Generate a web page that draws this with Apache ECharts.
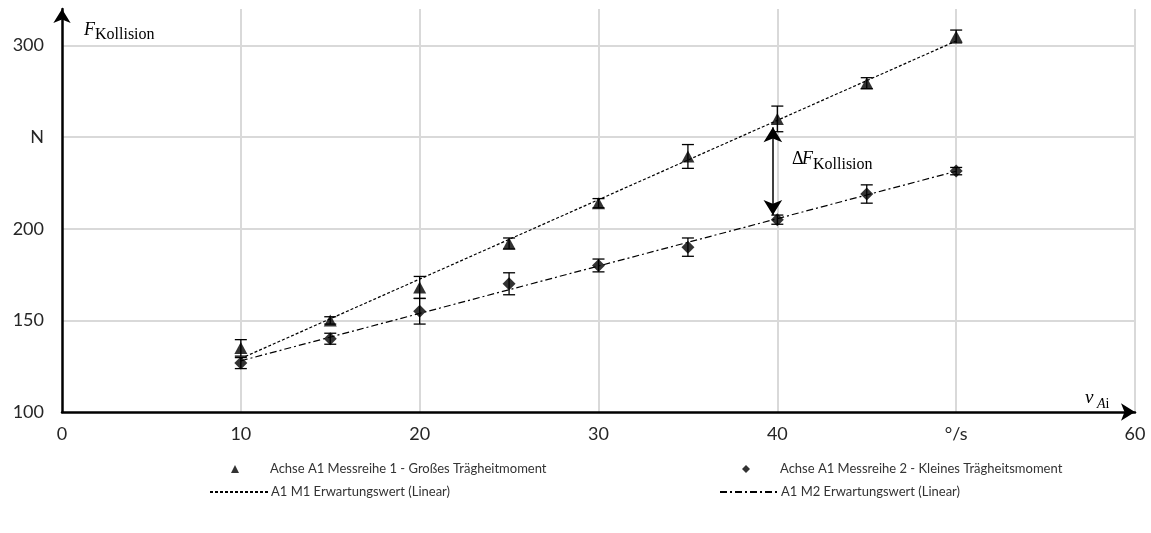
<!DOCTYPE html>
<html>
<head>
<meta charset="utf-8">
<script src="https://cdn.jsdelivr.net/npm/echarts@6/dist/echarts.min.js"></script>
<style>
  html, body { margin: 0; padding: 0; background: #ffffff; }
  #chart { width: 1151px; height: 533px; }
</style>
</head>
<body>
<div id="chart"></div>
<script>
// Collision force vs. axis speed, two measurement series with error bars
const speeds = [10, 15, 20, 25, 30, 35, 40, 45, 50];
const forceLargeInertia = [135, 150, 168, 192, 214, 239.5, 260, 279.5, 305];
const errLargeInertia   = [4.5, 2, 6, 3, 2.5, 6.5, 7, 3, 3.5];
const forceSmallInertia = [126.7, 140, 155, 170, 180, 190, 205, 219, 231.5];
const errSmallInertia   = [3, 3, 7, 6, 3.5, 5, 2.5, 5, 2];

const seriesNames = [
  'Achse A1 Messreihe 1 - Großes Trägheitmoment',
  'Achse A1 Messreihe 2 - Kleines Trägheitsmoment',
  'A1 M1 Erwartungswert (Linear)',
  'A1 M2 Erwartungswert (Linear)'
];

// tick values that carry a unit instead of a number
const xTickText = { 50: '°/s' };
const yTickText = { 250: 'N' };

// vertical double arrow marking the force difference at 40 °/s
const deltaArrow = { x: 39.75, top: 255.5, bottom: 207.5 };

// least-squares straight line over the measured range
function linearTrend(xs, ys) {
  const n = xs.length;
  const mx = xs.reduce((a, b) => a + b, 0) / n;
  const my = ys.reduce((a, b) => a + b, 0) / n;
  let sxy = 0, sxx = 0;
  for (let i = 0; i < n; i++) {
    sxy += (xs[i] - mx) * (ys[i] - my);
    sxx += (xs[i] - mx) * (xs[i] - mx);
  }
  const slope = sxy / sxx;
  const icpt = my - slope * mx;
  const x0 = Math.min(...xs), x1 = Math.max(...xs);
  return [[x0, icpt + slope * x0], [x1, icpt + slope * x1]];
}

function points(ys) { return speeds.map((x, i) => [x, ys[i]]); }
function ranges(ys, es) { return speeds.map((x, i) => [x, ys[i] - es[i], ys[i] + es[i]]); }

function renderErrorBar(params, api) {
  const x = api.value(0);
  const pLo = api.coord([x, api.value(1)]);
  const pHi = api.coord([x, api.value(2)]);
  const half = 6;
  const style = { stroke: '#000', lineWidth: 1.3, fill: null };
  return {
    type: 'group',
    children: [
      { type: 'line', shape: { x1: pLo[0], y1: pLo[1], x2: pHi[0], y2: pHi[1] }, style },
      { type: 'line', shape: { x1: pLo[0] - half, y1: pLo[1], x2: pLo[0] + half, y2: pLo[1] }, style },
      { type: 'line', shape: { x1: pHi[0] - half, y1: pHi[1], x2: pHi[0] + half, y2: pHi[1] }, style }
    ]
  };
}

const tickFont = { fontFamily: 'Lato', fontSize: 18, color: '#262626' };
const mathFont = '"Liberation Serif", "DejaVu Serif", serif';

// one legend entry per block so marker and line samples can have their own widths
function markerLegend(left, top, name, icon, textGap) {
  return {
    left: left, top: top, orient: 'vertical',
    itemWidth: 8, itemHeight: 8, selectedMode: false,
    data: [{ name: name, icon: icon }],
    textStyle: { fontFamily: 'Lato', fontSize: 13, color: '#333333', lineHeight: 14, padding: [0, 0, 0, textGap] }
  };
}
function lineLegend(left, top, name) {
  return {
    left: left, top: top, orient: 'vertical',
    itemWidth: 60, itemHeight: 8, selectedMode: false,
    data: [{ name: name, itemStyle: { opacity: 0 } }],
    textStyle: { fontFamily: 'Lato', fontSize: 13, color: '#333333', lineHeight: 14, padding: [0, 0, 0, -4] }
  };
}

const chart = echarts.init(document.getElementById('chart'), null, { renderer: 'canvas' });

chart.setOption({
  animation: false,
  backgroundColor: '#ffffff',
  grid: { left: 62, right: 16, top: 9, bottom: 121, outerBoundsMode: 'none', containLabel: false },
  legend: [
    markerLegend(226, 457, seriesNames[0], 'triangle', 26),
    lineLegend(204, 480, seriesNames[2]),
    markerLegend(737, 457, seriesNames[1], 'diamond', 25),
    lineLegend(714, 480, seriesNames[3])
  ],
  xAxis: {
    type: 'value', min: 0, max: 60, interval: 10,
    axisLine: {
      show: true, onZero: false,
      lineStyle: { color: '#000', width: 2.5 },
      symbol: ['none', 'arrow'], symbolSize: [13, 14], symbolOffset: [0, 0]
    },
    axisTick: { show: false },
    axisLabel: {
      margin: 13, ...tickFont,
      formatter: v => (xTickText[v] !== undefined ? xTickText[v] : String(v))
    },
    splitLine: { show: true, showMinLine: false, lineStyle: { color: '#d9d9d9', width: 2 } }
  },
  yAxis: {
    type: 'value', min: 100, max: 320, interval: 50,
    axisLine: {
      show: true, onZero: false,
      lineStyle: { color: '#000', width: 2.5 },
      symbol: ['none', 'arrow'], symbolSize: [13, 14], symbolOffset: [0, 0]
    },
    axisTick: { show: false },
    axisLabel: {
      margin: 18, ...tickFont, showMaxLabel: false,
      formatter: v => (yTickText[v] !== undefined ? yTickText[v] : String(v))
    },
    splitLine: { show: true, showMinLine: false, showMaxLine: false, lineStyle: { color: '#d9d9d9', width: 2 } }
  },
  series: [
    {
      name: seriesNames[2], type: 'line', data: linearTrend(speeds, forceLargeInertia),
      symbol: 'none', showSymbol: false, silent: true, z: 3,
      lineStyle: { color: '#000', width: 1.2, type: [3, 2] },
      itemStyle: { color: '#000' }
    },
    {
      name: seriesNames[3], type: 'line', data: linearTrend(speeds, forceSmallInertia),
      symbol: 'none', showSymbol: false, silent: true, z: 3,
      lineStyle: { color: '#000', width: 1.2, type: [7, 3, 2, 3] },
      itemStyle: { color: '#000' }
    },
    {
      type: 'custom', renderItem: renderErrorBar, silent: true, z: 4,
      encode: { x: 0, y: [1, 2] }, data: ranges(forceLargeInertia, errLargeInertia)
    },
    {
      type: 'custom', renderItem: renderErrorBar, silent: true, z: 4,
      encode: { x: 0, y: [1, 2] }, data: ranges(forceSmallInertia, errSmallInertia)
    },
    {
      name: seriesNames[0], type: 'scatter', data: points(forceLargeInertia),
      symbol: 'triangle', symbolSize: [13, 12], z: 5,
      itemStyle: { color: '#000' },
      markLine: {
        silent: true, symbol: ['arrow', 'arrow'], symbolSize: [14, 15],
        label: { show: false },
        lineStyle: { color: '#000', width: 1.5, type: 'solid' },
        data: [[{ coord: [deltaArrow.x, deltaArrow.top] }, { coord: [deltaArrow.x, deltaArrow.bottom] }]]
      }
    },
    {
      name: seriesNames[1], type: 'scatter', data: points(forceSmallInertia),
      symbol: 'diamond', symbolSize: 13, z: 5,
      itemStyle: { color: '#000' }
    }
  ],
  graphic: [
    // axis title: F_Kollision
    { type: 'text', left: 84, top: 21, z: 10, style: { text: 'F', font: 'italic 18px ' + mathFont, fill: '#000' } },
    { type: 'text', left: 95, top: 27, z: 10, style: { text: 'Kollision', font: '16px ' + mathFont, fill: '#000' } },
    // axis title: v_Ai
    { type: 'text', left: 1085, top: 388, z: 10, style: { text: 'v', font: 'italic 19px ' + mathFont, fill: '#000' } },
    {
      type: 'text', left: 1097, top: 397, z: 10,
      style: {
        text: '{a|A}{b|i}', fill: '#000',
        rich: {
          a: { font: 'italic 14px ' + mathFont, fill: '#000' },
          b: { font: '14px ' + mathFont, fill: '#000' }
        }
      }
    },
    // annotation: ΔF_Kollision
    { type: 'text', left: 792, top: 150, z: 10, style: { text: 'Δ', font: '18px ' + mathFont, fill: '#000' } },
    { type: 'text', left: 802, top: 150, z: 10, style: { text: 'F', font: 'italic 18px ' + mathFont, fill: '#000' } },
    { type: 'text', left: 813, top: 157, z: 10, style: { text: 'Kollision', font: '16px ' + mathFont, fill: '#000' } }
  ]
});
</script>
</body>
</html>
